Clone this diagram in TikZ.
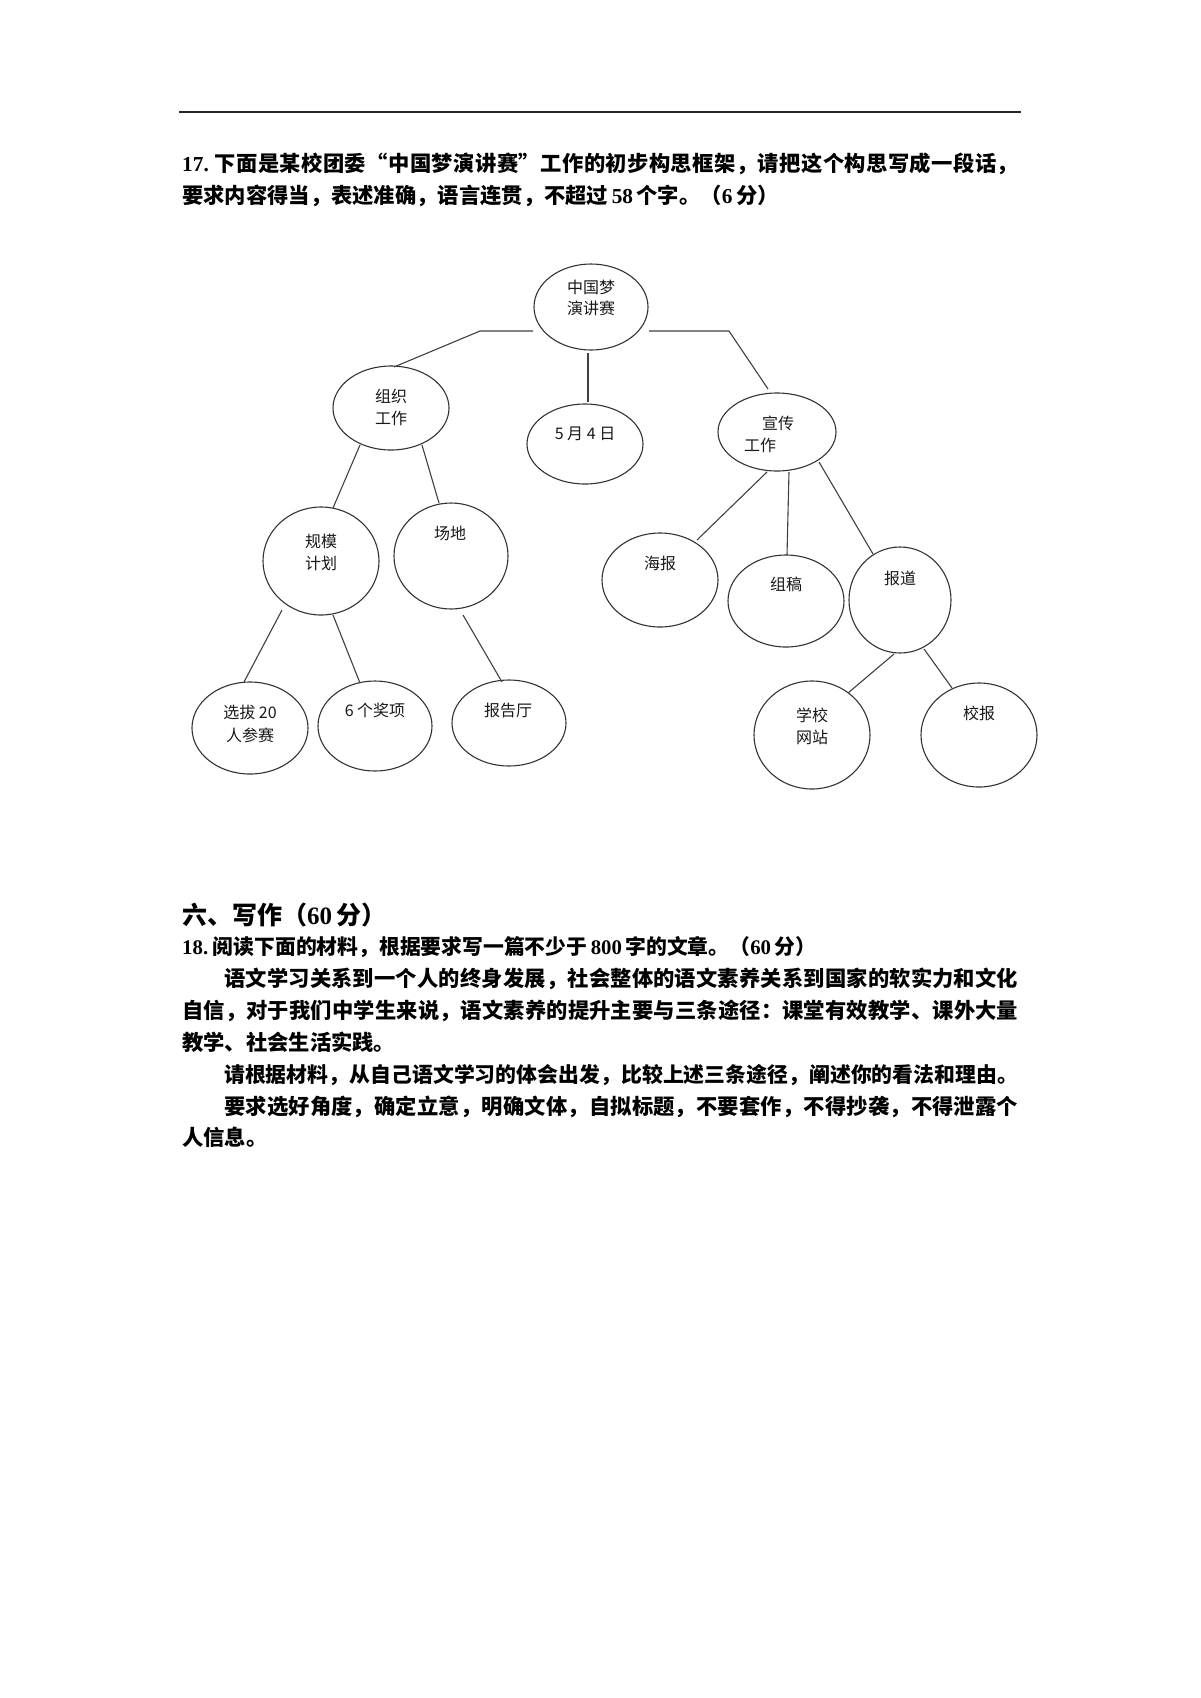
\documentclass[tikz,border=0pt]{standalone}
\usepackage{fontspec}
\setmainfont{Noto Sans CJK SC}
\newfontfamily\lat{Liberation Serif}
\usetikzlibrary{shapes.geometric}
\ExplSyntaxOn
\NewDocumentCommand\spreadline{mm}{\hbox~to~#1{\tl_map_inline:nn{#2}{##1\hfil}\unskip}}
\ExplSyntaxOff
\newcommand{\qnum}[1]{{\lat\bfseries #1}}
\tikzset{
  bubble/.style={ellipse, draw=black!80, line width=1.1pt, inner sep=0pt},
  lab/.style={inner sep=0pt, anchor=base, font=\fontsize{16}{19}\selectfont, text=black!90},
  link/.style={draw=black!75, line width=1.1pt},
  plain/.style={inner sep=0pt, anchor=base west, font=\fontsize{21.3}{32}\selectfont\bfseries},
}
\begin{document}
\begin{tikzpicture}[x=1pt, y=-1pt]
\fill[white] (0,0) rectangle (1200,1698);
\useasboundingbox (0,0) rectangle (1200,1698);
% top rule
\coordinate (r1) at (179,111.5);
\coordinate (r2) at (1021,111.5);
\draw[line width=2pt, black!85] (r1) -- (r2);

% question 17
\node[plain] (q17a) at (182,171) {\spreadline{836pt}{{\qnum{17.\ }}下面是某校团委“中国梦演讲赛”工作的初步构思框架，请把这个构思写成一段话，}};
\node[plain] (q17b) at (182,203) {要求内容得当，表述准确，语言连贯，不超过\qnum{\,58\,}个字。（\qnum{6\,}分）};

% ellipses
\node[bubble, minimum width=114pt, minimum height=86pt] (root) at (591,307) {};
\node[bubble, minimum width=116pt, minimum height=84pt] (zz) at (391,408) {};
\node[bubble, minimum width=116pt, minimum height=80pt] (d54) at (585,444) {};
\node[bubble, minimum width=118pt, minimum height=78pt] (xc) at (777,432) {};
\node[bubble, minimum width=116pt, minimum height=108pt] (gm) at (321,561) {};
\node[bubble, minimum width=114pt, minimum height=106pt] (cd) at (451,556) {};
\node[bubble, minimum width=116pt, minimum height=94pt] (hb) at (660,580) {};
\node[bubble, minimum width=116pt, minimum height=92pt] (zg) at (786,601) {};
\node[bubble, minimum width=102pt, minimum height=106pt] (bd) at (900,600) {};
\node[bubble, minimum width=116pt, minimum height=92pt] (xb) at (250,728) {};
\node[bubble, minimum width=114pt, minimum height=90pt] (jx) at (375,726) {};
\node[bubble, minimum width=114pt, minimum height=86pt] (bgt) at (509,723) {};
\node[bubble, minimum width=116pt, minimum height=108pt] (xx) at (812,735) {};
\node[bubble, minimum width=116pt, minimum height=104pt] (xbao) at (979,735) {};

% labels
\node[lab] (root-a) at (591,293) {中国梦};
\node[lab] (root-b) at (591,314) {演讲赛};
\node[lab] (zz-a) at (391,402) {组织};
\node[lab] (zz-b) at (391,424) {工作};
\node[lab] (d54-a) at (585,439) {5 月 4 日};
\node[lab] (xc-a) at (778,429) {宣传};
\node[lab] (xc-b) at (760,451) {工作};
\node[lab] (gm-a) at (321,547) {规模};
\node[lab] (gm-b) at (321,569) {计划};
\node[lab] (cd-a) at (450,539) {场地};
\node[lab] (hb-a) at (660,569) {海报};
\node[lab] (zg-a) at (786,590) {组稿};
\node[lab] (bd-a) at (900,584) {报道};
\node[lab] (xb-a) at (250,718) {选拔 20};
\node[lab] (xb-b) at (250,741) {人参赛};
\node[lab] (jx-a) at (375,716) {6 个奖项};
\node[lab] (bgt-a) at (508,716) {报告厅};
\node[lab] (xx-a) at (812,721) {学校};
\node[lab] (xx-b) at (812,743) {网站};
\node[lab] (xbao-a) at (979,719) {校报};

% connectors
\draw[link] ([shift={(-58,24)}]root.center) -- ([shift={(-111,24)}]root.center) -- ([shift={(3,-41)}]zz.center);
\draw[link] ([shift={(58,24)}]root.center) -- ([shift={(138,24)}]root.center) -- ([shift={(-9,-43)}]xc.center);
\draw[link] ([shift={(-3,46)}]root.center) -- ([shift={(3,-42)}]d54.center);
\draw[link] ([shift={(-31,37)}]zz.center) -- ([shift={(12,-53)}]gm.center);
\draw[link] ([shift={(31,37)}]zz.center) -- ([shift={(-12,-53)}]cd.center);
\draw[link] ([shift={(-39,49)}]gm.center) -- ([shift={(-6,-46)}]xb.center);
\draw[link] ([shift={(12,54)}]gm.center) -- ([shift={(-15,-43)}]jx.center);
\draw[link] ([shift={(12,59)}]cd.center) -- ([shift={(-7,-41)}]bgt.center);
\draw[link] ([shift={(-10,40)}]xc.center) -- ([shift={(37,-40)}]hb.center);
\draw[link] ([shift={(12,40)}]xc.center) -- ([shift={(1,-46)}]zg.center);
\draw[link] ([shift={(42,30)}]xc.center) -- ([shift={(-27,-46)}]bd.center);
\draw[link] ([shift={(-6,54)}]bd.center) -- ([shift={(36,-42)}]xx.center);
\draw[link] ([shift={(24,49)}]bd.center) -- ([shift={(-27,-47)}]xbao.center);

% section six
\node[plain, font=\fontsize{25}{28}\selectfont\bfseries] (h6) at (182,924) {六、写作（\qnum{60\,}分）};
\node[plain, font=\fontsize{20.8}{32}\selectfont\bfseries] (q18) at (182,954) {\qnum{18.}\ 阅读下面的材料，根据要求写一篇不少于\qnum{\,800\,}字的文章。（\qnum{60\,}分）};
\node[plain] (pa1) at (224,986) {\spreadline{794pt}{语文学习关系到一个人的终身发展，社会整体的语文素养关系到国家的软实力和文化}};
\node[plain] (pa2) at (182,1018) {\spreadline{836pt}{自信，对于我们中学生来说，语文素养的提升主要与三条途径：课堂有效教学、课外大量}};
\node[plain] (pa3) at (182,1050) {教学、社会生活实践。};
\node[plain, font=\fontsize{20.85}{32}\selectfont\bfseries] (pb1) at (224,1082) {\spreadline{794pt}{请根据材料，从自己语文学习的体会出发，比较上述三条途径，阐述你的看法和理由。}};
\node[plain] (pc1) at (224,1114) {\spreadline{794pt}{要求选好角度，确定立意，明确文体，自拟标题，不要套作，不得抄袭，不得泄露个}};
\node[plain] (pc2) at (182,1145) {人信息。};
\end{tikzpicture}
\end{document}
